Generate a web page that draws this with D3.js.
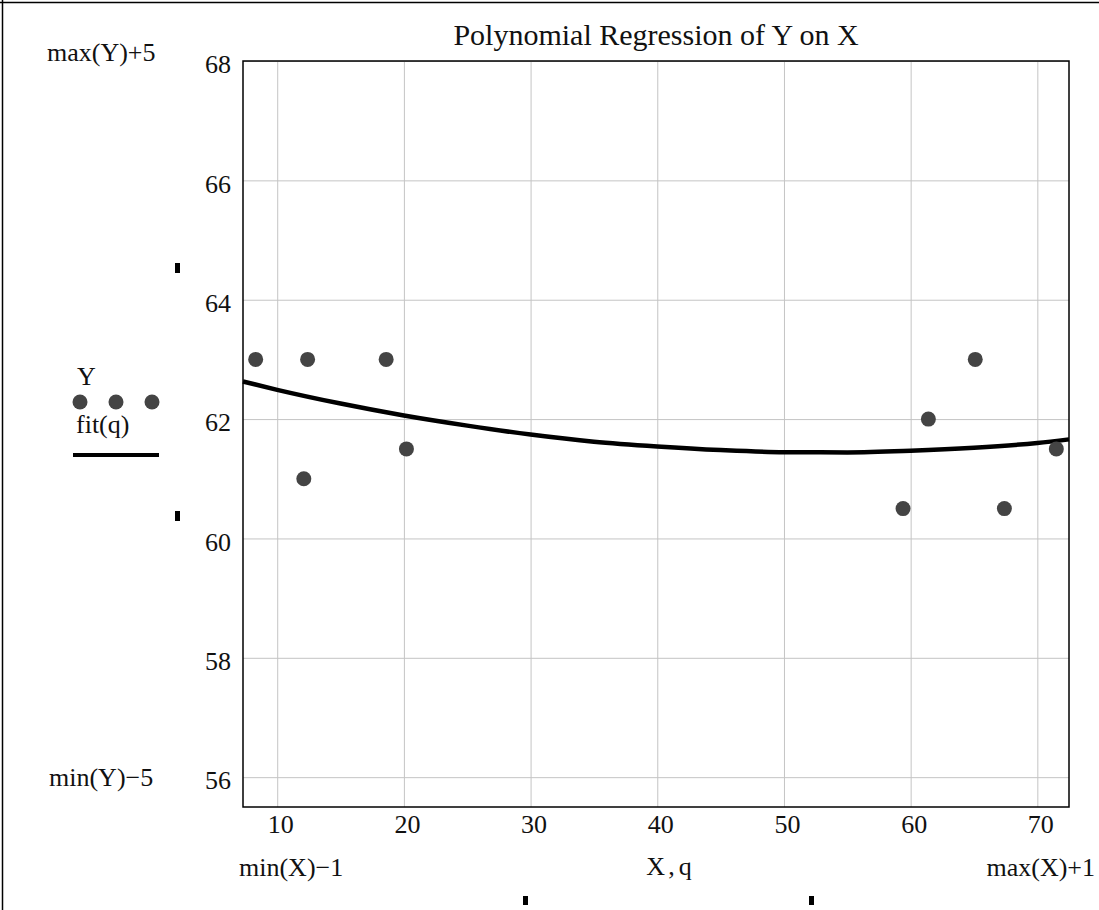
<!DOCTYPE html>
<html>
<head>
<meta charset="utf-8">
<script src="https://cdn.jsdelivr.net/npm/d3@7"></script>
<style>
  html, body { margin: 0; padding: 0; background: #fff; }
  svg { display: block; }
  text { font-family: "Liberation Serif", "Times New Roman", serif; fill: #111; }
</style>
</head>
<body>
<svg id="chart" width="1099" height="910"></svg>
<script>
// ---- data ----
const xData = [8.3, 12.1, 12.4, 18.6, 20.2, 59.4, 61.4, 65.1, 67.4, 71.5];
const yData = [63, 61, 63, 63, 61.5, 60.5, 62, 63, 60.5, 61.5];
const qValues = [7.3, 10, 15, 20, 25, 30, 35, 40, 45, 50, 55, 60, 65, 70, 72.5];
const fitValues = [62.63, 62.49, 62.26, 62.06, 61.89, 61.74, 61.62, 61.54, 61.48, 61.445, 61.442, 61.47, 61.52, 61.60, 61.66];
const xTicks = [10, 20, 30, 40, 50, 60, 70];
const yTicks = [56, 58, 60, 62, 64, 66, 68];
const titleText = "Polynomial Regression of Y on X";

const SERIF = "'Liberation Serif', 'Times New Roman', serif";
const svg = d3.select("#chart");
const W = 1099, H = 910;
const plot = { left: 243, right: 1069, top: 61, bottom: 807 };
const pw = plot.right - plot.left, ph = plot.bottom - plot.top;

const x = d3.scaleLinear().domain([d3.min(xData) - 1, d3.max(xData) + 1]).range([0, pw]);
const y = d3.scaleLinear().domain([d3.min(yData) - 5, d3.max(yData) + 5]).range([ph, 0]);

// outer region border (top & left)
svg.append("line").attr("x1", 0).attr("x2", W).attr("y1", 2.5).attr("y2", 2.5)
  .attr("stroke", "#000").attr("stroke-width", 1.5);
svg.append("line").attr("x1", 2.5).attr("x2", 2.5).attr("y1", 0).attr("y2", H)
  .attr("stroke", "#000").attr("stroke-width", 1.5);

const g = svg.append("g").attr("transform", `translate(${plot.left},${plot.top})`);

// grid + tick labels via d3 axes
const yAxis = g.append("g").call(
  d3.axisLeft(y).tickValues(yTicks).tickSizeInner(-pw).tickSizeOuter(0).tickPadding(12).tickFormat(d3.format("d"))
);
const xAxis = g.append("g").attr("transform", `translate(0,${ph})`).call(
  d3.axisBottom(x).tickValues(xTicks).tickSizeInner(-ph).tickSizeOuter(0).tickPadding(8).tickFormat(d3.format("d"))
);
[xAxis, yAxis].forEach(a => {
  a.attr("font-family", null).attr("font-size", null);
  a.select(".domain").remove();
  a.selectAll(".tick line").attr("stroke", "#c4c4c4").attr("stroke-width", 1);
  a.selectAll(".tick text")
    .style("font-family", SERIF).style("font-size", "26px").style("fill", "#111");
});
yAxis.selectAll(".tick text").attr("dy", "0.45em");
xAxis.selectAll(".tick text").attr("dx", 3).attr("dy", "0.71em");

// frame
g.append("rect").attr("x", 0).attr("y", 0).attr("width", pw).attr("height", ph)
  .attr("fill", "none").attr("stroke", "#000").attr("stroke-width", 1.5);

// fit curve
const fitPts = qValues.map((q, i) => [q, fitValues[i]]);
g.append("path").datum(fitPts)
  .attr("d", d3.line().x(d => x(d[0])).y(d => y(d[1])).curve(d3.curveMonotoneX))
  .attr("fill", "none").attr("stroke", "#000").attr("stroke-width", 4.5).attr("stroke-linejoin", "round");

// data points
g.selectAll("circle.pt").data(xData.map((v, i) => [v, yData[i]])).enter()
  .append("circle").attr("class", "pt")
  .attr("cx", d => x(d[0])).attr("cy", d => y(d[1])).attr("r", 7.5).attr("fill", "#444");

// title
svg.append("text").attr("x", (plot.left + plot.right) / 2).attr("y", 45)
  .attr("text-anchor", "middle").style("font-size", "30px").text(titleText);

// Mathcad limit labels
const lab = (tx, ty, t, anchor) => svg.append("text").attr("x", tx).attr("y", ty)
  .style("font-size", "26px").attr("text-anchor", anchor || "start").text(t);
lab(47, 61, "max(Y)+5");
lab(49, 786, "min(Y)\u22125");
lab(239, 876, "min(X)\u22121");
lab(1095, 876, "max(X)+1", "end");

// axis variable label "X , q"
const xl = svg.append("text").attr("x", 669).attr("y", 875).style("font-size", "26px").attr("text-anchor", "middle");
xl.append("tspan").text("X");
xl.append("tspan").attr("dx", 3).text(",");
xl.append("tspan").attr("dx", 4).text("q");

// legend
lab(77, 385, "Y");
const legendDots = [80, 116, 152];
svg.selectAll("circle.leg").data(legendDots).enter().append("circle").attr("class", "leg")
  .attr("cx", d => d).attr("cy", 402).attr("r", 7.5).attr("fill", "#444");
lab(76, 433, "fit(q)");
svg.append("line").attr("x1", 73).attr("x2", 159).attr("y1", 455).attr("y2", 455)
  .attr("stroke", "#000").attr("stroke-width", 4);

// small region anchor marks
const marks = [[175, 263, 5, 10], [175, 511, 5, 10], [523, 896, 5, 9], [809, 896, 5, 9]];
svg.selectAll("rect.mk").data(marks).enter().append("rect").attr("class", "mk")
  .attr("x", d => d[0]).attr("y", d => d[1]).attr("width", d => d[2]).attr("height", d => d[3]).attr("fill", "#000");
</script>
</body>
</html>
